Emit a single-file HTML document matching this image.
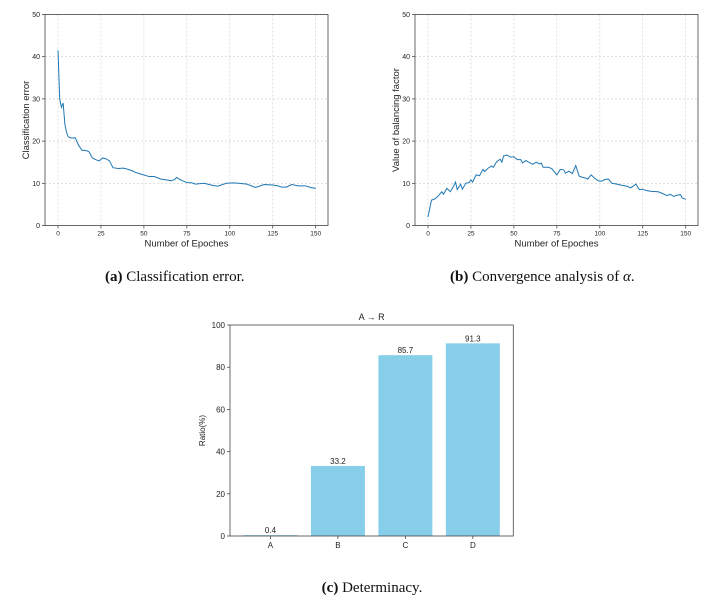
<!DOCTYPE html>
<html><head><meta charset="utf-8">
<style>
body{margin:0;background:#fff;width:716px;height:603px;overflow:hidden}
svg{position:absolute;left:0;top:0}
.t{font-family:"Liberation Sans","DejaVu Sans",sans-serif;fill:#222}
.cap{font-family:"Liberation Serif",serif;font-size:15px;fill:#111}
</style></head><body>
<svg id="s" width="716" height="603">
<text class="cap" x="105" y="281"><tspan font-weight="bold">(a)</tspan> Classification error.</text>
<text class="cap" x="450" y="281"><tspan font-weight="bold">(b)</tspan> Convergence analysis of <tspan font-style="italic">α</tspan>.</text>
<text class="cap" x="372" y="592" text-anchor="middle"><tspan font-weight="bold">(c)</tspan> Determinacy.</text>
</svg>
<script>
const errX=[0,1,2,3,4,5,6,8,10,12,14,16,18,20,22,24,26,28,30,32,35,38,40,43,45,48,50,53,56,60,63,66,68,69,71,73,75,78,80,85,90,93,95,98,102,105,110,115,120,125,128,130,133,136,140,144,147,150];
const errY=[41.5,30,28,29,24,22,21,20.7,20.8,19,17.8,17.8,17.5,16,15.6,15.3,16,15.8,15.3,13.7,13.5,13.6,13.4,13,12.6,12.2,12,11.6,11.6,11,10.8,10.6,10.9,11.4,10.9,10.5,10.2,10.1,9.8,10,9.5,9.3,9.6,10,10.1,10,9.8,9,9.7,9.6,9.4,9.1,9.1,9.7,9.4,9.4,9,8.8];
const balX=[0,1,2,4,6,8,9,11,13,15,16,17,19,20,22,24,25,26,28,30,32,33,35,37,38,40,42,43,44,46,48,50,52,54,55,57,59,61,63,65,66,67,70,72,75,77,79,80,82,84,86,88,90,92,93,95,97,99,101,103,105,107,110,113,116,118,121,123,125,127,130,134,137,139,141,143,145,147,148,150];
const balY=[2,4,6,6.3,7,8,7.4,8.8,8,9.4,10.3,8.5,9.8,8.6,10,10.2,10.8,10.3,12,11.8,13.3,12.8,13.6,14.1,13.8,15.1,15.7,15,16.5,16.7,16.2,16.3,15.6,15.6,14.8,15.4,14.9,14.5,15,14.6,14.8,13.8,13.8,13.5,12,13.3,13.2,12.4,12.9,12.3,14.2,11.7,11.4,11.2,11,12,11.2,10.6,10.5,10.9,11,10,9.8,9.5,9.3,8.9,9.8,8.5,8.6,8.3,8.1,8,7.5,7.1,7.4,6.9,7.2,7.3,6.5,6.2];
const lineTicks=[0,25,50,75,100,125,150];
const lineYTicks=[0,10,20,30,40,50];
const barCats=['A','B','C','D'];
const barVals=[0.4,33.2,85.7,91.3];
const barLabels=['0.4','33.2','85.7','91.3'];
const barYTicks=[0,20,40,60,80,100];

const NS='http://www.w3.org/2000/svg';
const svg=document.getElementById('s');
function el(tag,a,parent){const e=document.createElementNS(NS,tag);for(const k in a)e.setAttribute(k,a[k]);(parent||svg).appendChild(e);return e;}

function lineChart(name,ox,xs,ys,ylab){
  const L=ox+45,R=ox+328,T=14.5,B=225.5;
  const x0=ox+58,x1=ox+315.7;
  const sx=v=>x0+(x1-x0)*v/150, sy=v=>B-(B-T)*v/50;
  const g=el('g',{});
  
  
  lineTicks.forEach(v=>{
    const l=el('line',{x1:sx(v),x2:sx(v),y1:T,y2:B,stroke:'#ccc','stroke-width':0.6,'stroke-dasharray':'2,2'},g);
    
    el('line',{x1:sx(v),x2:sx(v),y1:B,y2:B+3,stroke:'#333','stroke-width':0.7},g);
    const t=el('text',{x:sx(v),y:B+10,'font-size':6.5,'text-anchor':'middle',class:'t'},g);t.textContent=v;
    
  });
  lineYTicks.forEach(v=>{
    const l=el('line',{x1:L,x2:R,y1:sy(v),y2:sy(v),stroke:'#ccc','stroke-width':0.6,'stroke-dasharray':'2,2'},g);
    
    el('line',{x1:L-3,x2:L,y1:sy(v),y2:sy(v),stroke:'#333','stroke-width':0.7},g);
    const t=el('text',{x:L-5,y:sy(v)+2.5,'font-size':7,'text-anchor':'end',class:'t'},g);t.textContent=v;
    
  });
  const p=el('polyline',{points:xs.map((x,i)=>sx(x)+','+sy(ys[i])).join(' '),fill:'none',stroke:'#1f77b4','stroke-width':1},g);
  
  const f=el('rect',{x:L,y:T,width:R-L,height:B-T,fill:'none',stroke:'#444','stroke-width':0.8},g);
  
  const xl=el('text',{x:(L+R)/2,y:B+21,'font-size':9.5,'text-anchor':'middle',class:'t'},g);xl.textContent='Number of Epoches';
  
  const yl=el('text',{x:0,y:0,'font-size':9.5,'text-anchor':'middle',class:'t',transform:`translate(${ox+29},${(T+B)/2}) rotate(-90)`},g);yl.textContent=ylab;
  
}
lineChart('classification-error-chart',0,errX,errY,'Classification error');
lineChart('balancing-factor-chart',370,balX,balY,'Value of balancing factor');

(function(){
  const L=230,R=513.3,T=325,B=536;
  const sx=i=>L+(R-L)*(i+0.6)/4.2, sy=v=>B-(B-T)*v/100;
  const bw=(R-L)*0.8/4.2;
  const g=el('g',{});
  
  
  barVals.forEach((v,i)=>{
    const r=el('rect',{x:sx(i)-bw/2,y:sy(v),width:bw,height:B-sy(v),fill:'#87ceeb'},g);
    
    const t=el('text',{x:sx(i),y:sy(v)-2,'font-size':8,'text-anchor':'middle',class:'t'},g);t.textContent=barLabels[i];
    
    el('line',{x1:sx(i),x2:sx(i),y1:B,y2:B+3,stroke:'#333','stroke-width':0.7},g);
    const c=el('text',{x:sx(i),y:B+12,'font-size':8,'text-anchor':'middle',class:'t'},g);c.textContent=barCats[i];
    
  });
  barYTicks.forEach(v=>{
    el('line',{x1:L-3,x2:L,y1:sy(v),y2:sy(v),stroke:'#333','stroke-width':0.7},g);
    const t=el('text',{x:L-5,y:sy(v)+3,'font-size':8,'text-anchor':'end',class:'t'},g);t.textContent=v;
    
  });
  const f=el('rect',{x:L,y:T,width:R-L,height:B-T,fill:'none',stroke:'#444','stroke-width':0.8},g);
  
  const ti=el('text',{x:(L+R)/2,y:T-5,'font-size':9,'text-anchor':'middle',class:'t'},g);ti.textContent='A → R';
  
  const yl=el('text',{x:0,y:0,'font-size':8,'text-anchor':'middle',class:'t',transform:`translate(${205},${(T+B)/2}) rotate(-90)`},g);yl.textContent='Ratio(%)';
  
})();
</script>
</body></html>
